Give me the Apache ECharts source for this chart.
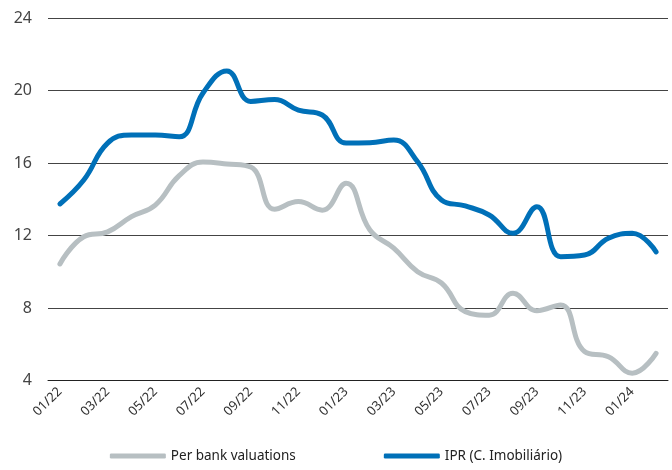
<!DOCTYPE html>
<html><head><meta charset="utf-8">
<script src="https://cdn.jsdelivr.net/npm/echarts@6/dist/echarts.min.js"></script>
<style>html,body{margin:0;padding:0;background:#fff}#c{width:672px;height:470px}</style>
</head><body><div id="c"></div>
<script>
var categories = ['01/22','02/22','03/22','04/22','05/22','06/22','07/22','08/22','09/22','10/22','11/22','12/22',
  '01/23','02/23','03/23','04/23','05/23','06/23','07/23','08/23','09/23','10/23','11/23','12/23','01/24','02/24'];
var perBank = [10.43,11.93,12.2,13.04,13.68,15.3,16.05,15.95,15.78,13.45,13.87,13.4,
  14.88,12.3,11.3,10.0,9.38,7.8,7.6,8.81,7.85,8.17,5.6,5.31,4.4,5.5];
var ipr = [13.74,15.06,17.1,17.55,17.55,17.45,19.86,21.08,19.4,19.5,18.92,18.65,
  17.1,17.12,17.27,16.07,13.96,13.63,13.13,12.12,13.59,10.83,10.92,11.85,12.12,11.1];
var yTicks = {min: 4, max: 24, interval: 4};

var chart = echarts.init(document.getElementById('c'));
var font = 'Noto Sans';
chart.setOption({
  animation: false,
  grid: {left: 48, right: 4, top: 18, bottom: 89.5, containLabel: false},
  legend: {
    bottom: 2, left: 'center', itemGap: 88, itemWidth: 56, itemHeight: 5,
    icon: 'roundRect',
    textStyle: {fontFamily: font, fontSize: 13.5, color: '#222'},
    data: ['Per bank valuations', 'IPR (C. Imobiliário)']
  },
  xAxis: {
    type: 'category', data: categories, boundaryGap: true,
    axisLine: {lineStyle: {color: '#222', width: 1}},
    axisTick: {interval: 1, length: 5, lineStyle: {color: '#222'}},
    axisLabel: {interval: 1, rotate: 45, fontFamily: font, fontSize: 13, color: '#333', margin: 9}
  },
  yAxis: {
    type: 'value', min: yTicks.min, max: yTicks.max, interval: yTicks.interval,
    axisLine: {show: false}, axisTick: {show: false},
    axisLabel: {fontFamily: font, fontSize: 16, color: '#444', margin: 16},
    splitLine: {lineStyle: {color: '#444', width: 1}}
  },
  series: [
    {name: 'Per bank valuations', type: 'line', data: perBank, smooth: 0.45, symbol: 'none',
     lineStyle: {color: '#B7BFC2', width: 5, cap: 'round', join: 'round'}, itemStyle: {color: '#B7BFC2'}},
    {name: 'IPR (C. Imobiliário)', type: 'line', data: ipr, smooth: 0.45, symbol: 'none',
     lineStyle: {color: '#0070B8', width: 5, cap: 'round', join: 'round'}, itemStyle: {color: '#0070B8'}}
  ]
});
</script></body></html>
